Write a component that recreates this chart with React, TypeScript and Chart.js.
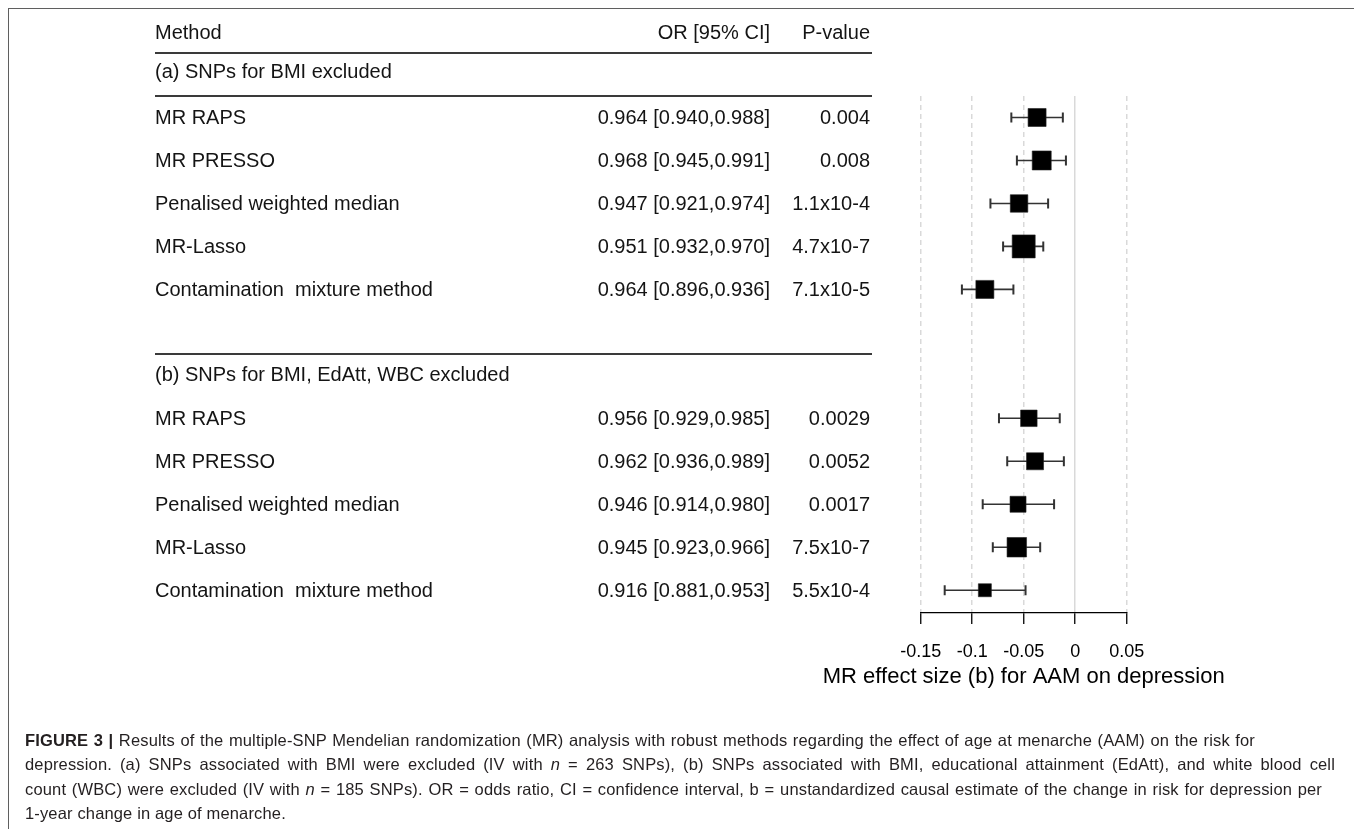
import React, { useEffect, useRef } from 'react';
import { Chart, registerables } from 'chart.js';

Chart.register(...registerables);

// ---------------- data ----------------
const methods = [
  'MR RAPS',
  'MR PRESSO',
  'Penalised weighted median',
  'MR-Lasso',
  'Contamination  mixture method',
];
const groupTitles = ['(a) SNPs for BMI excluded', '(b) SNPs for BMI, EdAtt, WBC excluded'];
const headerCells = ['Method', 'OR [95% CI]', 'P-value'];

const orTextA = ['0.964 [0.940,0.988]', '0.968 [0.945,0.991]', '0.947 [0.921,0.974]', '0.951 [0.932,0.970]', '0.964 [0.896,0.936]'];
const pTextA = ['0.004', '0.008', '1.1x10-4', '4.7x10-7', '7.1x10-5'];
const orTextB = ['0.956 [0.929,0.985]', '0.962 [0.936,0.989]', '0.946 [0.914,0.980]', '0.945 [0.923,0.966]', '0.916 [0.881,0.953]'];
const pTextB = ['0.0029', '0.0052', '0.0017', '7.5x10-7', '5.5x10-4'];

// MR effect sizes (b) and 95% CI as plotted
const betaA = [-0.037, -0.0325, -0.0545, -0.050, -0.0877];
const loA = [-0.062, -0.0566, -0.0823, -0.070, -0.110];
const hiA = [-0.012, -0.009, -0.0263, -0.031, -0.060];
const betaB = [-0.045, -0.039, -0.0555, -0.0567, -0.0877];
const loB = [-0.074, -0.066, -0.0898, -0.080, -0.1267];
const hiB = [-0.015, -0.011, -0.0205, -0.034, -0.0482];

// relative weights (box sizes)
const weightA = [18, 19, 17.5, 23, 18];
const weightB = [16.5, 17, 16, 19.5, 13];

const tickValues = [-0.15, -0.1, -0.05, 0, 0.05];
const tickLabels = ['-0.15', '-0.1', '-0.05', '0', '0.05'];
const axisTitle = 'MR effect size (b) for AAM on depression';

const captionLines = [
  ' Results of the multiple-SNP Mendelian randomization (MR) analysis with robust methods regarding the effect of age at menarche (AAM) on the risk for',
  'depression. (a) SNPs associated with BMI were excluded (IV with ',
  ' = 263 SNPs), (b) SNPs associated with BMI, educational attainment (EdAtt), and white blood cell',
  'count (WBC) were excluded (IV with ',
  ' = 185 SNPs). OR = odds ratio, CI = confidence interval, b = unstandardized causal estimate of the change in risk for depression per',
  '1-year change in age of menarche.',
];

// ---------------- layout ----------------
const FONT = '"Liberation Sans", Arial, sans-serif';
const W = 1354;
const H = 829;
const ROW_A = [0, 1, 2, 3, 4];
const ROW_B = [7, 8, 9, 10, 11];
const COL1_X = 155;
const COL2_R = 770;
const COL3_R = 870;
const LINE_R = 872;

const tablePlugin = {
  id: 'forestTable',
  afterDraw(chart: any) {
    const { ctx, chartArea } = chart;
    const ys = chart.scales.y;
    const py = (k: number) => ys.getPixelForValue(k);
    ctx.save();
    ctx.fillStyle = '#141414';
    ctx.textBaseline = 'middle';
    ctx.font = `20px ${FONT}`;
    const row = (k: number, c1: string, c2?: string, c3?: string) => {
      const y = py(k);
      ctx.textAlign = 'left';
      ctx.fillText(c1, COL1_X, y);
      ctx.textAlign = 'right';
      if (c2) ctx.fillText(c2, COL2_R, y);
      if (c3) ctx.fillText(c3, COL3_R, y);
    };
    row(-1.95, headerCells[0], headerCells[1], headerCells[2]);
    row(-1.05, groupTitles[0]);
    methods.forEach((m, i) => row(ROW_A[i] + 0.03, m, orTextA[i], pTextA[i]));
    row(6, groupTitles[1]);
    methods.forEach((m, i) => row(ROW_B[i] + 0.03, m, orTextB[i], pTextB[i]));
    ctx.strokeStyle = '#3a3a3a';
    ctx.lineWidth = 2;
    [-1.5, -0.5, 5.5].forEach((k) => {
      const y = Math.round(py(k));
      ctx.beginPath();
      ctx.moveTo(COL1_X, y);
      ctx.lineTo(LINE_R, y);
      ctx.stroke();
    });
    // axis title
    ctx.fillStyle = '#000000';
    ctx.font = `22px ${FONT}`;
    ctx.textAlign = 'center';
    ctx.fillText(axisTitle, (chartArea.left + chartArea.right) / 2, 677);
    ctx.restore();
  },
};

export default function App() {
  const ref = useRef<HTMLCanvasElement | null>(null);

  useEffect(() => {
    if (!ref.current) return;
    const rows = [...ROW_A, ...ROW_B];
    const betas = [...betaA, ...betaB];
    const los = [...loA, ...loB];
    const his = [...hiA, ...hiB];
    const weights = [...weightA, ...weightB];

    const errorSets = rows.map((k, i) => ({
      type: 'scatter' as const,
      showLine: true,
      data: [
        { x: los[i], y: k },
        { x: his[i], y: k },
      ],
      borderColor: '#333333',
      borderWidth: 1.6,
      pointStyle: 'line',
      pointRotation: 90,
      pointRadius: 5,
      pointBorderWidth: 2,
      pointBorderColor: '#333333',
      pointBackgroundColor: '#333333',
      order: 1,
    }));

    const boxSet = {
      type: 'scatter' as const,
      data: rows.map((k, i) => ({ x: betas[i], y: k })),
      pointStyle: 'rect',
      pointRadius: weights.map((w) => w / Math.SQRT2),
      pointBackgroundColor: '#000000',
      pointBorderColor: '#222222',
      pointBorderWidth: 0.6,
      order: 0,
    };

    const chart = new Chart(ref.current, {
      type: 'scatter',
      data: { datasets: [boxSet as any, ...(errorSets as any[])] },
      options: {
        animation: false,
        responsive: false,
        devicePixelRatio: 1,
        events: [],
        layout: { padding: { left: 920.7, right: W - 1126.7, top: 96, bottom: H - 613 - 100 } },
        plugins: { legend: { display: false }, tooltip: { enabled: false }, title: { display: false } },
        scales: {
          x: {
            type: 'linear',
            min: -0.15,
            max: 0.05,
            afterBuildTicks: (s: any) => {
              s.ticks = tickValues.map((v) => ({ value: v }));
            },
            afterFit: (s: any) => {
              s.height = 100;
            },
            grid: {
              color: '#d9d9d9',
              lineWidth: 1.5,
              drawTicks: true,
              tickLength: 11,
              tickColor: '#000000',
              tickWidth: 1.3,
            },
            border: {
              display: true,
              color: '#000000',
              width: 1.3,
              dash: (c: any) => (c.tick && c.tick.value === 0 ? [] : [5, 4]),
            },
            ticks: {
              font: { size: 18, family: FONT },
              color: '#000000',
              padding: 17,
              maxRotation: 0,
              autoSkip: false,
              callback: (_v: any, i: number) => tickLabels[i],
            },
            title: { display: false },
          },
          y: {
            type: 'linear',
            display: false,
            reverse: true,
            min: -0.5,
            max: 11.53,
          },
        },
      },
      plugins: [tablePlugin],
    });
    return () => chart.destroy();
  }, []);

  const capStyle: React.CSSProperties = {
    position: 'absolute',
    left: 25,
    whiteSpace: 'normal',
    font: `16.5px ${FONT}`,
    letterSpacing: '0.15px',
    color: '#231f20',
    lineHeight: '24.4px',
    textAlign: 'justify',
    textAlignLast: 'justify',
  };

  return (
    <>
      <canvas
        ref={ref}
        width={W}
        height={H}
        style={{ position: 'absolute', left: 0, top: 0, width: W, height: H }}
      />
      <div
        style={{
          position: 'absolute',
          left: 8,
          top: 8,
          width: W - 8,
          height: H - 8,
          borderTop: '1.4px solid #5f5f5f',
          borderLeft: '1.4px solid #5f5f5f',
          boxSizing: 'border-box',
          pointerEvents: 'none',
        }}
      />
      <div style={{ ...capStyle, top: 728, width: 1255 - 25 }}>
        <b>FIGURE 3 |</b>
        {captionLines[0]}
      </div>
      <div style={{ ...capStyle, top: 728 + 24.4, width: 1335 - 25 }}>
        {captionLines[1]}
        <i>n</i>
        {captionLines[2]}
      </div>
      <div style={{ ...capStyle, top: 728 + 48.8, width: 1322 - 25 }}>
        {captionLines[3]}
        <i>n</i>
        {captionLines[4]}
      </div>
      <div style={{ ...capStyle, top: 728 + 73.2, textAlign: 'left', textAlignLast: 'auto' }}>
        {captionLines[5]}
      </div>
    </>
  );
}
